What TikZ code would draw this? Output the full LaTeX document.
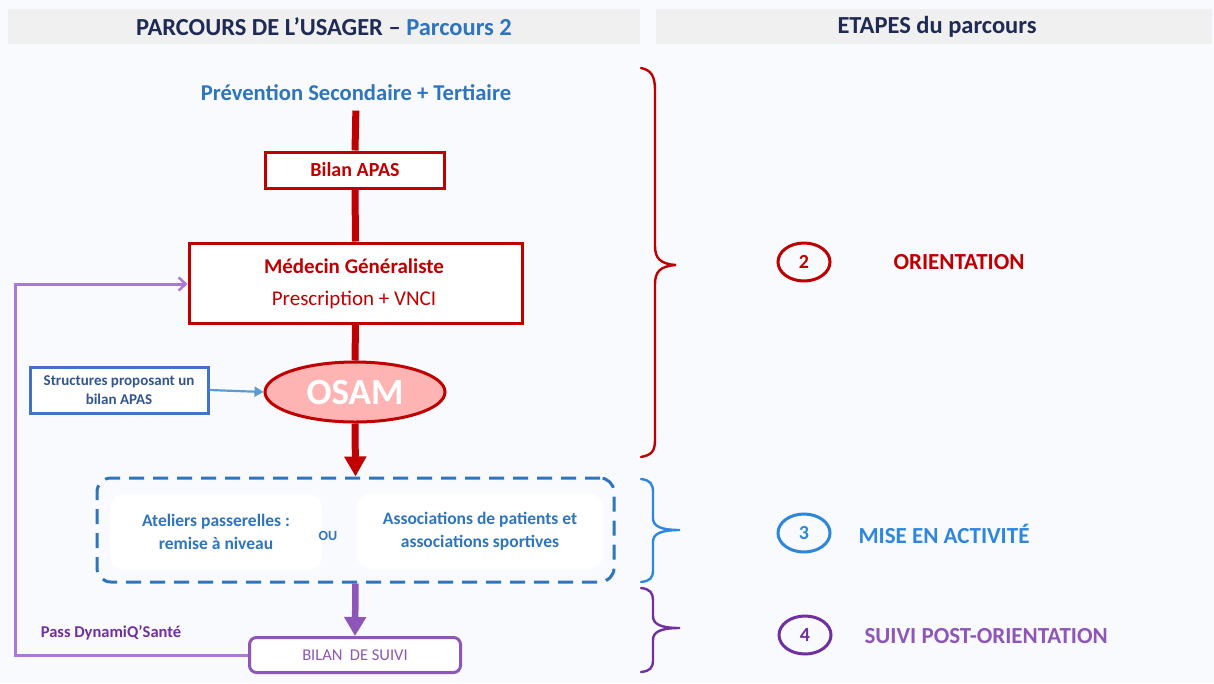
\documentclass[tikz,border=0pt]{standalone}
\usepackage{fontspec}
\setmainfont{Carlito}
\usetikzlibrary{arrows.meta,shapes.geometric}
\definecolor{bgc}{RGB}{248,250,253}
\definecolor{band}{RGB}{240,240,240}
\definecolor{navy}{RGB}{31,42,85}
\definecolor{blu}{RGB}{46,117,190}
\definecolor{dred}{RGB}{192,0,0}
\definecolor{pink}{RGB}{255,180,180}
\definecolor{sblue}{RGB}{68,114,196}
\definecolor{lblue}{RGB}{91,155,213}
\definecolor{dpurp}{RGB}{112,48,160}
\definecolor{mpurp}{RGB}{142,86,184}
\definecolor{lpurp}{RGB}{170,120,215}
\definecolor{cblue}{RGB}{46,134,222}
\tikzset{
  redbox/.style={draw=dred, line width=3pt, fill=white, inner sep=0pt},
  redline/.style={draw=dred, line width=7pt},
  brace/.style={line width=2.4pt, line cap=round},
  stepnum/.style={ellipse, line width=3pt, minimum width=52pt, minimum height=38pt, inner sep=0pt, font=\fontsize{20}{22}\selectfont\bfseries},
  steptext/.style={font=\fontsize{23}{25}\selectfont\bfseries, anchor=west},
  inner/.style={draw=white, fill=white, rounded corners=14pt, inner sep=0pt},
}
\begin{document}
\begin{tikzpicture}[x=1pt,y=-1pt]
\useasboundingbox (0,0) rectangle (1214,683);
\fill[bgc] (0,0) rectangle (1214,683);
% header bands
\fill[band] (8,9) rectangle (640,44);
\fill[band] (656,9) rectangle (1212,44);
\node (h1) at (324,27) {\fontsize{24.5}{26}\selectfont\bfseries\textcolor{navy}{PARCOURS DE L’USAGER –} \textcolor{blu}{Parcours 2}};
\node (h2) at (937,27) {\fontsize{24.5}{26}\selectfont\bfseries\textcolor{navy}{ETAPES du parcours}};
% flow
\node[text=blu, font=\fontsize{22.6}{24}\selectfont\bfseries] (prev) at (356,93) {Prévention Secondaire + Tertiaire};
\node[redbox, minimum width=179pt, minimum height=36pt, text=dred, font=\fontsize{20}{22}\selectfont\bfseries] (bilan) at (355,170) {Bilan APAS};
\node[redbox, minimum width=333pt, minimum height=80pt] (med) at (355.5,283) {};
\node[text=dred, font=\fontsize{21}{23}\selectfont\bfseries] (medt) at (354,266) {Médecin Généraliste};
\node[text=dred, font=\fontsize{21}{23}\selectfont] (medp) at (354,300) {Prescription + VNCI};
\node[ellipse, draw=dred, line width=3pt, fill=pink, minimum width=180pt, minimum height=60pt, inner sep=0pt, text=white, font=\fontsize{37}{39}\selectfont\bfseries] (osam) at (355,392) {OSAM};
\node[draw=sblue, line width=3pt, fill=white, minimum width=178pt, minimum height=46pt, inner sep=0pt, align=center, text=sblue!75!black, font=\fontsize{15}{19}\selectfont\bfseries] (struct) at (119,390) {Structures proposant un\\bilan APAS};
\draw[redline, shorten <=6pt] (prev.south) -- (bilan.north);
\draw[redline] (bilan.south) -- (med.north);
\draw[redline] (med.south) -- (osam.north);
% dashed box
\node[draw=blu, line width=3pt, dash pattern=on 15pt off 9pt, rounded corners=14pt, minimum width=517pt, minimum height=104pt, inner sep=0pt] (act) at (355.5,530) {};
\node[inner, minimum width=212pt, minimum height=75pt, align=center, text=blu, font=\fontsize{17.5}{23}\selectfont\bfseries] (atel) at (216,532) {Ateliers passerelles :\\remise à niveau};
\node[inner, minimum width=246pt, minimum height=75pt, align=center, text=blu, font=\fontsize{17.5}{23}\selectfont\bfseries] (assoc) at (480,531) {Associations de patients et\\associations sportives};
\node[text=blu, font=\fontsize{14}{16}\selectfont\bfseries] (ou) at (328,536) {OU};
\draw[dred, line width=7pt, -{Triangle[width=21pt,length=20pt]}] (osam.south) -- (act.north);
\draw[lblue, line width=2.2pt, -{Triangle[width=10pt,length=9pt]}] (struct.east) -- (osam.west);
% bilan de suivi
\node[draw=mpurp, line width=3pt, fill=white, rounded corners=7pt, minimum width=211pt, minimum height=35pt, inner sep=0pt, text=mpurp, font=\fontsize{16.5}{18}\selectfont] (suivi) at (355,655) {BILAN\ \ DE SUIVI};
\draw[mpurp, line width=6.5pt, -{Triangle[width=21pt,length=19pt]}] (act.south) -- (suivi.north);
\coordinate (c1) at (15,655);
\coordinate (c2) at (15,284);
\draw[lpurp, line width=3pt, -{Straight Barb[width=13pt,length=7pt,line width=2.5pt]}] (suivi.west) -- (c1) -- (c2) -- (med.west |- c2);
\node[text=dpurp, font=\fontsize{16.5}{18}\selectfont\bfseries] (pass) at (111,633) {Pass DynamiQ’Santé};
% braces
\draw[dred, brace] (641,68) .. controls (651,70) and (655,76) .. (655,90) -- (655,246) .. controls (655,258) and (660,264) .. (676,265) .. controls (660,266) and (655,272) .. (655,284) -- (655,440) .. controls (655,452) and (651,455) .. (641,457);
\draw[cblue, brace] (641,479) .. controls (650,480) and (653,484) .. (653,492) -- (653,518) .. controls (653,526) and (660,530) .. (680,530) .. controls (660,530) and (653,534) .. (653,542) -- (653,570) .. controls (653,578) and (650,581) .. (641,582);
\draw[dpurp, brace] (641,588) .. controls (650,589) and (653,593) .. (653,600) -- (653,616) .. controls (653,624) and (660,628) .. (680,628) .. controls (660,628) and (653,632) .. (653,640) -- (653,660) .. controls (653,668) and (650,671) .. (641,672);
% steps
\node[stepnum, draw=dred, text=dred] (s2) at (804,262) {2};
\node[steptext, text=dred] (t2) at (890,262) {ORIENTATION};
\node[stepnum, draw=cblue, text=cblue] (s3) at (804,533) {3};
\node[steptext, text=cblue] (t3) at (855,534) {MISE EN ACTIVITÉ};
\node[stepnum, draw=dpurp, text=dpurp] (s4) at (805,635) {4};
\node[steptext, text=mpurp] (t4) at (861,636) {SUIVI POST-ORIENTATION};
\end{tikzpicture}
\end{document}
